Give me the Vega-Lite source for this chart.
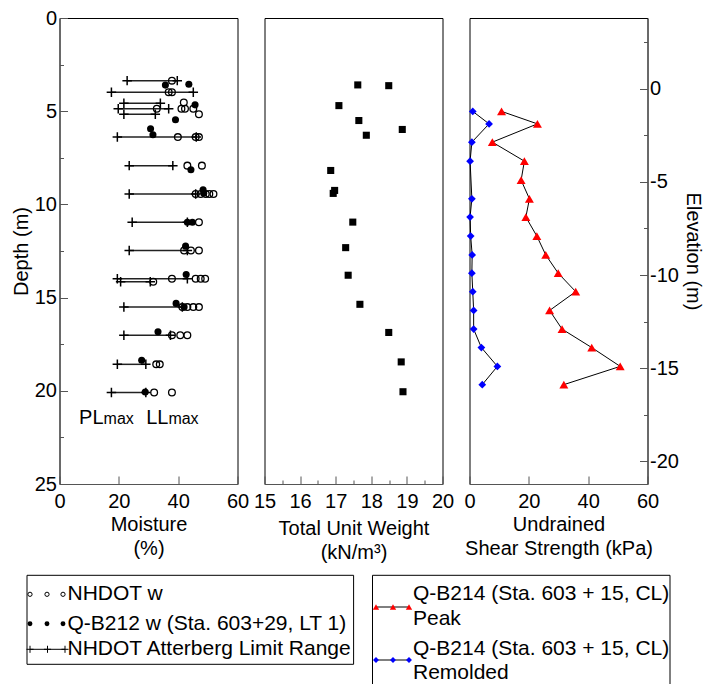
{
  "$schema": "https://vega.github.io/schema/vega-lite/v6.json",
  "padding": {"left": 10.5, "top": 7, "right": 2, "bottom": 0},
  "bounds": "full",
  "spacing": 2,
  "datasets": {
    "atterberg": [
      {"depth": 3.36, "PL": 22.8, "LL": 39.7},
      {"depth": 3.98, "PL": 17.5, "LL": 45.1},
      {"depth": 4.57, "PL": 21.7, "LL": 34.0},
      {"depth": 4.87, "PL": 19.8, "LL": 36.8},
      {"depth": 5.16, "PL": 21.7, "LL": 32.3},
      {"depth": 6.39, "PL": 19.5, "LL": 46.1},
      {"depth": 7.92, "PL": 23.5, "LL": 38.2},
      {"depth": 9.44, "PL": 23.5, "LL": 45.9},
      {"depth": 10.96, "PL": 24.5, "LL": 43.1},
      {"depth": 12.47, "PL": 23.5, "LL": 43.1},
      {"depth": 13.99, "PL": 19.5, "LL": 43.1},
      {"depth": 14.15, "PL": 20.6, "LL": 30.6},
      {"depth": 15.51, "PL": 21.7, "LL": 41.4},
      {"depth": 17.02, "PL": 21.7, "LL": 37.4},
      {"depth": 18.58, "PL": 19.5, "LL": 29.1},
      {"depth": 20.09, "PL": 17.5, "LL": 29.1}
    ],
    "nhdot": [
      {"depth": 3.36, "w": 37.9},
      {"depth": 3.98, "w": 36.8}, {"depth": 3.98, "w": 37.9},
      {"depth": 4.53, "w": 41.9},
      {"depth": 4.87, "w": 32.8}, {"depth": 4.87, "w": 41.1}, {"depth": 4.87, "w": 42.3}, {"depth": 4.87, "w": 45.1},
      {"depth": 5.16, "w": 47.0},
      {"depth": 6.39, "w": 39.9}, {"depth": 6.39, "w": 45.9}, {"depth": 6.39, "w": 47.0},
      {"depth": 7.92, "w": 43.1}, {"depth": 7.92, "w": 48.0},
      {"depth": 9.44, "w": 45.9}, {"depth": 9.44, "w": 47.6}, {"depth": 9.44, "w": 49.3}, {"depth": 9.44, "w": 50.5}, {"depth": 9.44, "w": 51.9},
      {"depth": 10.96, "w": 47.0},
      {"depth": 12.47, "w": 42.0}, {"depth": 12.47, "w": 44.3}, {"depth": 12.47, "w": 47.0},
      {"depth": 13.99, "w": 37.9}, {"depth": 13.99, "w": 45.9}, {"depth": 13.99, "w": 47.6}, {"depth": 13.99, "w": 49.1},
      {"depth": 14.15, "w": 31.6},
      {"depth": 15.51, "w": 41.4}, {"depth": 15.51, "w": 43.1}, {"depth": 15.51, "w": 45.1}, {"depth": 15.51, "w": 47.0},
      {"depth": 17.02, "w": 37.9}, {"depth": 17.02, "w": 40.7}, {"depth": 17.02, "w": 43.1},
      {"depth": 18.58, "w": 32.6}, {"depth": 18.58, "w": 33.8},
      {"depth": 20.09, "w": 31.9}, {"depth": 20.09, "w": 37.9}
    ],
    "qb212": [
      {"depth": 3.55, "w": 43.6},
      {"depth": 3.6, "w": 35.7},
      {"depth": 4.66, "w": 45.7},
      {"depth": 5.46, "w": 39.1},
      {"depth": 5.94, "w": 30.7},
      {"depth": 6.26, "w": 31.5},
      {"depth": 8.14, "w": 44.3},
      {"depth": 9.21, "w": 48.4},
      {"depth": 9.40, "w": 48.6},
      {"depth": 10.96, "w": 43.1}, {"depth": 10.96, "w": 44.8},
      {"depth": 12.24, "w": 42.5},
      {"depth": 13.76, "w": 42.7},
      {"depth": 15.31, "w": 39.3},
      {"depth": 15.51, "w": 42.0},
      {"depth": 16.83, "w": 33.2},
      {"depth": 18.36, "w": 27.7},
      {"depth": 20.06, "w": 28.9}
    ],
    "lab_big": [
      {"t": "PL", "m": 6.6, "depth": 21.78},
      {"t": "LL", "m": 29.2, "depth": 21.78}
    ],
    "lab_small": [
      {"t": "max", "m": 14.85, "depth": 21.78},
      {"t": "max", "m": 36.7, "depth": 21.78}
    ],
    "unitwt": [
      {"depth": 3.59, "g": 17.62},
      {"depth": 3.63, "g": 18.49},
      {"depth": 4.70, "g": 17.09},
      {"depth": 5.50, "g": 17.65},
      {"depth": 5.98, "g": 18.87},
      {"depth": 6.29, "g": 17.86},
      {"depth": 8.18, "g": 16.86},
      {"depth": 9.25, "g": 16.97},
      {"depth": 9.41, "g": 16.93},
      {"depth": 10.95, "g": 17.48},
      {"depth": 12.32, "g": 17.28},
      {"depth": 13.80, "g": 17.35},
      {"depth": 15.36, "g": 17.68},
      {"depth": 16.87, "g": 18.49},
      {"depth": 18.45, "g": 18.84},
      {"depth": 20.05, "g": 18.89}
    ],
    "peak": [
      {"elev": -1.22, "su": 10.8},
      {"elev": -1.89, "su": 22.9},
      {"elev": -2.87, "su": 7.7},
      {"elev": -3.89, "su": 18.5},
      {"elev": -4.91, "su": 17.4},
      {"elev": -5.91, "su": 20.2},
      {"elev": -6.89, "su": 19.0},
      {"elev": -7.91, "su": 22.7},
      {"elev": -8.92, "su": 25.7},
      {"elev": -9.90, "su": 29.9},
      {"elev": -10.89, "su": 35.8},
      {"elev": -11.90, "su": 27.0},
      {"elev": -12.90, "su": 31.2},
      {"elev": -13.89, "su": 41.2},
      {"elev": -14.90, "su": 50.8},
      {"elev": -15.88, "su": 31.8}
    ],
    "remolded": [
      {"elev": -1.22, "su": 1.1},
      {"elev": -1.89, "su": 6.6},
      {"elev": -2.87, "su": 0.8},
      {"elev": -3.89, "su": 0.2},
      {"elev": -5.91, "su": 0.8},
      {"elev": -6.89, "su": 0.2},
      {"elev": -7.91, "su": 0.4},
      {"elev": -8.92, "su": 0.9},
      {"elev": -9.90, "su": 0.8},
      {"elev": -10.89, "su": 1.1},
      {"elev": -11.90, "su": 1.4},
      {"elev": -12.90, "su": 1.4},
      {"elev": -13.89, "su": 4.0},
      {"elev": -14.90, "su": 9.4},
      {"elev": -15.88, "su": 4.3}
    ],
    "box1": [
      {"x": -32.5, "x2": 294.1, "y": 10.3, "y2": 99.3}
    ],
    "box2": [
      {"x": 313, "x2": 313, "y": 10.3, "y2": 121},
      {"x": 610.5, "x2": 610.5, "y": 10.3, "y2": 121},
      {"x": 313, "x2": 610.5, "y": 10.3, "y2": 10.3}
    ],
    "leg_open": [
      {"x": -29.5, "y": 29.3}, {"x": -12.5, "y": 29.3}, {"x": 3.5, "y": 29.3}
    ],
    "leg_fill": [
      {"x": -29.5, "y": 58.7}, {"x": -12.5, "y": 58.7}, {"x": 3.5, "y": 58.7}
    ],
    "leg_plus": [
      {"x": -29.5, "y": 84.3}, {"x": -12, "y": 84.3}, {"x": 5.5, "y": 84.3}
    ],
    "leg_line": [
      {"x": -29.5, "x2": 5.5, "y": 84.3},
      {"x": 316.5, "x2": 349.5, "y": 42},
      {"x": 316.5, "x2": 349.5, "y": 95}
    ],
    "leg_tri": [
      {"x": 316.5, "y": 42}, {"x": 333.5, "y": 42}, {"x": 349.5, "y": 42}
    ],
    "leg_dia": [
      {"x": 316.5, "y": 95}, {"x": 333.5, "y": 95}, {"x": 349.5, "y": 95}
    ],
    "leg_text": [
      {"x": 8, "y": 29.3, "t": "NHDOT w"},
      {"x": 8, "y": 58.7, "t": "Q-B212 w (Sta. 603+29, LT 1)"},
      {"x": 8, "y": 84.3, "t": "NHDOT Atterberg Limit Range"},
      {"x": 353.5, "y": 29.3, "t": "Q-B214 (Sta. 603 + 15, CL)"},
      {"x": 353.5, "y": 54.3, "t": "Peak"},
      {"x": 353.5, "y": 83.7, "t": "Q-B214 (Sta. 603 + 15, CL)"},
      {"x": 353.5, "y": 107.7, "t": "Remolded"}
    ]
  },
  "vconcat": [
    {
      "bounds": "flush",
      "spacing": 27,
      "hconcat": [
        {
          "width": 178, "height": 466,
          "layer": [
            {
              "data": {"name": "atterberg"},
              "mark": {"type": "rule", "color": "#222", "strokeWidth": 1.5},
              "encoding": {
                "x": {"field": "PL", "type": "quantitative",
                  "scale": {"domain": [0, 60], "nice": false, "zero": false},
                  "axis": {
                    "values": [0, 10, 20, 30, 40, 50, 60],
                    "tickSize": {"condition": {"test": "datum.value % 20 != 0", "value": -5}, "value": -8},
                    "labelExpr": "datum.value % 20 == 0 ? format(datum.value, 'd') : ''",
                    "labelPadding": 15,
                    "title": ["Moisture", "(%)"],
                    "titlePadding": 3, "titleLineHeight": 24
                  }},
                "x2": {"field": "LL"},
                "y": {"field": "depth", "type": "quantitative",
                  "scale": {"domain": [0, 25], "reverse": true, "nice": false, "zero": false},
                  "axis": {
                    "values": [0, 2.5, 5, 7.5, 10, 12.5, 15, 17.5, 20, 22.5, 25],
                    "tickSize": {"condition": {"test": "datum.value % 5 != 0", "value": -4}, "value": -8},
                    "labelExpr": "datum.value % 5 == 0 ? format(datum.value, 'd') : ''",
                    "labelPadding": 11,
                    "title": "Depth  (m)",
                    "titlePadding": 3
                  }}
              }
            },
            {
              "data": {"name": "atterberg"},
              "mark": {"type": "point", "shape": "M-1,0H1M0,-1V1", "filled": false, "stroke": "black", "strokeWidth": 1.5, "size": 90, "opacity": 1},
              "encoding": {
                "x": {"field": "PL", "type": "quantitative"},
                "y": {"field": "depth", "type": "quantitative"}
              }
            },
            {
              "data": {"name": "atterberg"},
              "mark": {"type": "point", "shape": "M-1,0H1M0,-1V1", "filled": false, "stroke": "black", "strokeWidth": 1.5, "size": 90, "opacity": 1},
              "encoding": {
                "x": {"field": "LL", "type": "quantitative"},
                "y": {"field": "depth", "type": "quantitative"}
              }
            },
            {
              "data": {"name": "nhdot"},
              "mark": {"type": "point", "shape": "circle", "filled": false, "stroke": "black", "strokeWidth": 1.3, "size": 45, "opacity": 1},
              "encoding": {
                "x": {"field": "w", "type": "quantitative"},
                "y": {"field": "depth", "type": "quantitative"}
              }
            },
            {
              "data": {"name": "qb212"},
              "mark": {"type": "point", "shape": "circle", "filled": true, "color": "black", "size": 50, "opacity": 1},
              "encoding": {
                "x": {"field": "w", "type": "quantitative"},
                "y": {"field": "depth", "type": "quantitative"}
              }
            },
            {
              "data": {"name": "lab_big"},
              "mark": {"type": "text", "align": "left", "baseline": "alphabetic", "fontSize": 20, "color": "black"},
              "encoding": {
                "x": {"field": "m", "type": "quantitative"},
                "y": {"field": "depth", "type": "quantitative"},
                "text": {"field": "t"}
              }
            },
            {
              "data": {"name": "lab_small"},
              "mark": {"type": "text", "align": "left", "baseline": "alphabetic", "fontSize": 16, "color": "black"},
              "encoding": {
                "x": {"field": "m", "type": "quantitative"},
                "y": {"field": "depth", "type": "quantitative"},
                "text": {"field": "t"}
              }
            }
          ]
        },
        {
          "width": 178, "height": 466,
          "data": {"name": "unitwt"},
          "mark": {"type": "square", "color": "black", "size": 50, "opacity": 1},
          "encoding": {
            "x": {"field": "g", "type": "quantitative",
              "scale": {"domain": [15, 20], "nice": false, "zero": false},
              "axis": {
                "values": [15, 15.5, 16, 16.5, 17, 17.5, 18, 18.5, 19, 19.5, 20],
                "tickSize": {"condition": {"test": "datum.value % 1 != 0", "value": -4}, "value": -8},
                "labelExpr": "datum.value % 1 == 0 ? format(datum.value, 'd') : ''",
                "labelPadding": 15,
                "title": ["Total Unit Weight", "(kN/m³)"],
                "titlePadding": 3, "titleLineHeight": 24
              }},
            "y": {"field": "depth", "type": "quantitative",
              "scale": {"domain": [0, 25], "reverse": true, "nice": false, "zero": false},
              "axis": null}
          }
        },
        {
          "width": 178, "height": 466,
          "layer": [
            {
              "data": {"name": "peak"},
              "mark": {"type": "line", "color": "black", "strokeWidth": 1},
              "encoding": {
                "x": {"field": "su", "type": "quantitative",
                  "scale": {"domain": [0, 60], "nice": false, "zero": false},
                  "axis": {
                    "values": [0, 10, 20, 30, 40, 50, 60],
                    "tickSize": {"condition": {"test": "datum.value % 20 != 0", "value": -5}, "value": -8},
                    "labelExpr": "datum.value % 20 == 0 ? format(datum.value, 'd') : ''",
                    "labelPadding": 15,
                    "title": ["Undrained", "Shear Strength (kPa)"],
                    "titlePadding": 3, "titleLineHeight": 24
                  }},
                "y": {"field": "elev", "type": "quantitative",
                  "scale": {"domain": [-21.21, 3.79], "nice": false, "zero": false},
                  "axis": {
                    "orient": "right",
                    "values": [2.5, 0, -2.5, -5, -7.5, -10, -12.5, -15, -17.5, -20],
                    "tickSize": {"condition": {"test": "datum.value % 5 != 0", "value": -4}, "value": -8},
                    "labelExpr": "datum.value % 5 == 0 ? toString(datum.value) : ''",
                    "labelPadding": 10,
                    "title": "Elevation (m)",
                    "titlePadding": 4
                  }},
                "order": {"field": "elev", "sort": "descending"}
              }
            },
            {
              "data": {"name": "remolded"},
              "mark": {"type": "line", "color": "black", "strokeWidth": 1},
              "encoding": {
                "x": {"field": "su", "type": "quantitative"},
                "y": {"field": "elev", "type": "quantitative"},
                "order": {"field": "elev", "sort": "descending"}
              }
            },
            {
              "data": {"name": "peak"},
              "mark": {"type": "point", "shape": "triangle-up", "filled": true, "color": "#ff0000", "size": 80, "opacity": 1},
              "encoding": {
                "x": {"field": "su", "type": "quantitative"},
                "y": {"field": "elev", "type": "quantitative"}
              }
            },
            {
              "data": {"name": "remolded"},
              "mark": {"type": "point", "shape": "diamond", "filled": true, "color": "#0000ff", "size": 60, "opacity": 1},
              "encoding": {
                "x": {"field": "su", "type": "quantitative"},
                "y": {"field": "elev", "type": "quantitative"}
              }
            }
          ]
        }
      ]
    },
    {
      "width": 612, "height": 120,
      "view": {"stroke": null},
      "layer": [
        {
          "data": {"name": "box1"},
          "mark": {"type": "rect", "fill": null, "stroke": "black", "strokeWidth": 1},
          "encoding": {
            "x": {"field": "x", "type": "quantitative", "scale": {"domain": [0, 612], "nice": false, "zero": false}, "axis": null},
            "x2": {"field": "x2"},
            "y": {"field": "y", "type": "quantitative", "scale": {"domain": [0, 120], "reverse": true, "nice": false, "zero": false}, "axis": null},
            "y2": {"field": "y2"}
          }
        },
        {
          "data": {"name": "box2"},
          "mark": {"type": "rule", "color": "black", "strokeWidth": 1},
          "encoding": {
            "x": {"field": "x", "type": "quantitative"},
            "x2": {"field": "x2"},
            "y": {"field": "y", "type": "quantitative"},
            "y2": {"field": "y2"}
          }
        },
        {
          "data": {"name": "leg_line"},
          "mark": {"type": "rule", "color": "black", "strokeWidth": 1},
          "encoding": {
            "x": {"field": "x", "type": "quantitative"},
            "x2": {"field": "x2"},
            "y": {"field": "y", "type": "quantitative"}
          }
        },
        {
          "data": {"name": "leg_plus"},
          "mark": {"type": "point", "shape": "M-1,0H1M0,-1V1", "filled": false, "stroke": "black", "strokeWidth": 1, "size": 50, "opacity": 1},
          "encoding": {
            "x": {"field": "x", "type": "quantitative"},
            "y": {"field": "y", "type": "quantitative"}
          }
        },
        {
          "data": {"name": "leg_open"},
          "mark": {"type": "point", "shape": "circle", "filled": false, "stroke": "black", "strokeWidth": 1, "size": 18, "opacity": 1},
          "encoding": {
            "x": {"field": "x", "type": "quantitative"},
            "y": {"field": "y", "type": "quantitative"}
          }
        },
        {
          "data": {"name": "leg_fill"},
          "mark": {"type": "point", "shape": "circle", "filled": true, "color": "black", "size": 24, "opacity": 1},
          "encoding": {
            "x": {"field": "x", "type": "quantitative"},
            "y": {"field": "y", "type": "quantitative"}
          }
        },
        {
          "data": {"name": "leg_tri"},
          "mark": {"type": "point", "shape": "triangle-up", "filled": true, "color": "#ff0000", "size": 40, "opacity": 1},
          "encoding": {
            "x": {"field": "x", "type": "quantitative"},
            "y": {"field": "y", "type": "quantitative"}
          }
        },
        {
          "data": {"name": "leg_dia"},
          "mark": {"type": "point", "shape": "diamond", "filled": true, "color": "#0000ff", "size": 35, "opacity": 1},
          "encoding": {
            "x": {"field": "x", "type": "quantitative"},
            "y": {"field": "y", "type": "quantitative"}
          }
        },
        {
          "data": {"name": "leg_text"},
          "mark": {"type": "text", "align": "left", "baseline": "middle", "fontSize": 21, "color": "black"},
          "encoding": {
            "x": {"field": "x", "type": "quantitative"},
            "y": {"field": "y", "type": "quantitative"},
            "text": {"field": "t"}
          }
        }
      ]
    }
  ],
  "config": {
    "font": "Liberation Sans",
    "view": {"stroke": "black", "strokeWidth": 1},
    "axis": {
      "labelFontSize": 20, "titleFontSize": 20, "titleFontWeight": "normal",
      "labelColor": "black", "titleColor": "black",
      "domainColor": "#555", "tickColor": "#555", "domainWidth": 1, "tickWidth": 1,
      "grid": false, "labelFlush": false, "labelOverlap": false
    }
  }
}
